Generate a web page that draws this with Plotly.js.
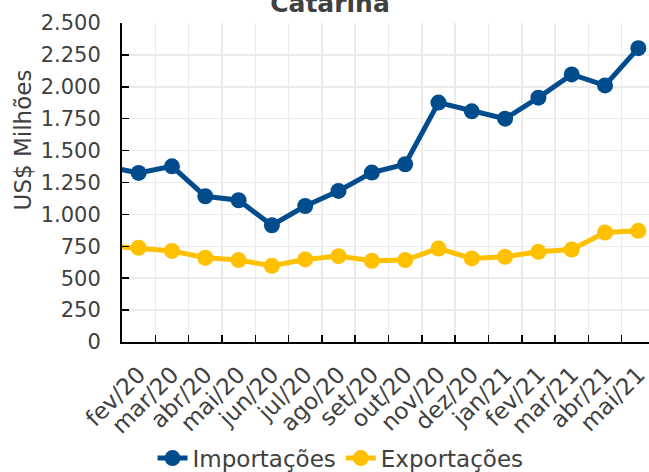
<!DOCTYPE html>
<html>
<head>
<meta charset="utf-8">
<script src="https://cdn.plot.ly/plotly-3.0.1.min.js"></script>
<style>
html,body{margin:0;padding:0;overflow:hidden;background:#fff;width:649px;height:472px;}
#chart{position:absolute;left:0;top:-20px;width:660px;height:510px;}
</style>
</head>
<body>
<div id="chart"></div>
<script>
// categories (jan/20 lies just outside the visible range; its line stub enters from the left edge)
var months = ["jan/20","fev/20","mar/20","abr/20","mai/20","jun/20","jul/20","ago/20","set/20","out/20","nov/20","dez/20","jan/21","fev/21","mar/21","abr/21","mai/21"];
var importacoes = [1377,1325,1377,1142,1111,915,1066,1184,1328,1393,1876,1808,1750,1915,2097,2011,2303];
var exportacoes = [755,738,714,660,642,597,647,673,636,642,733,655,668,707,725,858,871];

var FONT = "DejaVu Sans, sans-serif";
var TXT = "#404040";

var traces = [
  {x: months, y: importacoes, name: "Importações", type: "scatter", mode: "lines+markers",
   line: {color: "#004C8C", width: 5}, marker: {color: "#004C8C", size: 16}, cliponaxis: true},
  {x: months, y: exportacoes, name: "Exportações", type: "scatter", mode: "lines+markers",
   line: {color: "#FFC000", width: 5}, marker: {color: "#FFC000", size: 16}, cliponaxis: true}
];

var layout = {
  width: 660, height: 510,
  margin: {l: 122, r: 5, t: 42.5, b: 148},
  paper_bgcolor: "#fff", plot_bgcolor: "#fff",
  separators: ",.",
  font: {family: FONT, color: TXT, size: 20},
  title: {text: "Catarina", font: {family: FONT, size: 25, color: TXT, weight: "bold"},
          x: 0.5, xref: "container", xanchor: "center", y: 0.937, yref: "container", yanchor: "bottom"},
  showlegend: true,
  legend: {orientation: "h", x: 0.41, xanchor: "center", y: -0.364, yanchor: "middle",
           font: {family: FONT, size: 23, color: TXT}},
  annotations: [{
    text: "US$ Milhões", xref: "paper", yref: "paper", x: -0.1857, y: 0.632,
    xanchor: "center", yanchor: "middle", textangle: -90, showarrow: false,
    font: {family: FONT, size: 23, color: TXT}
  }],
  xaxis: {
    type: "category", categoryorder: "array", categoryarray: months,
    range: [0.5, 16.5], tickson: "boundaries", automargin: false,
    showgrid: true, gridcolor: "#EBEBEB", gridwidth: 1.5,
    showline: true, linecolor: "#000", linewidth: 2,
    ticks: "inside", ticklen: 7, tickwidth: 1.5, tickcolor: "#000",
    tickangle: -45, ticklabelstandoff: 8,
    tickfont: {family: FONT, size: 23, color: TXT},
    zeroline: false, fixedrange: true
  },
  yaxis: {
    range: [0, 2500], dtick: 250, tick0: 0, tickformat: ",d", automargin: false,
    showgrid: true, gridcolor: "#EBEBEB", gridwidth: 1.5,
    showline: true, linecolor: "#000", linewidth: 2,
    ticks: "inside", ticklen: 7, tickwidth: 1.5, tickcolor: "#000",
    ticklabelstandoff: 15,
    tickfont: {family: FONT, size: 21, color: TXT},
    zeroline: false, fixedrange: true
  }
};

Plotly.newPlot("chart", traces, layout, {displayModeBar: false, staticPlot: true});
</script>
</body>
</html>
